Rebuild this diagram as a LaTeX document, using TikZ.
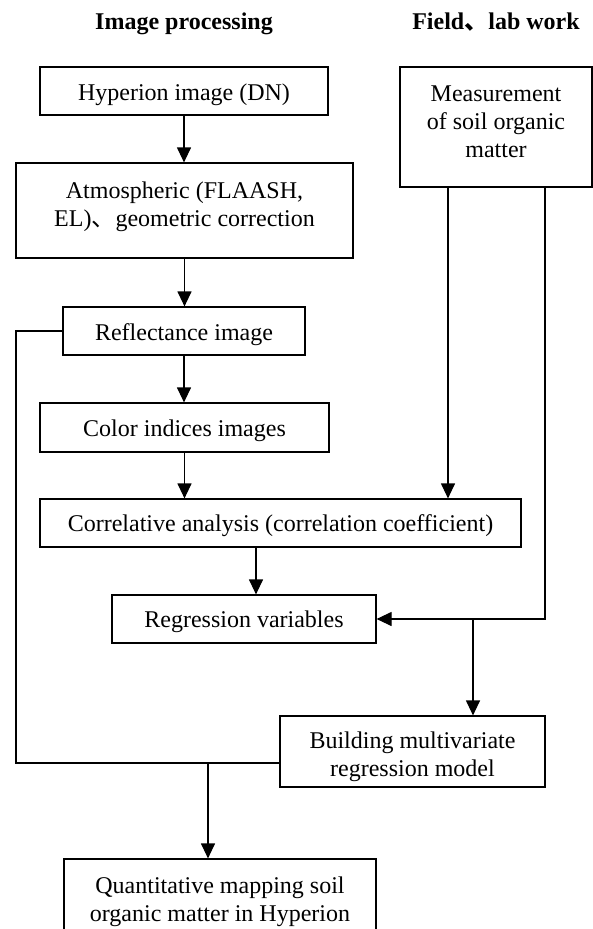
\documentclass[tikz,border=0pt]{standalone}
\usepackage{fontspec}
\setmainfont{Liberation Serif}
\newfontfamily\cjk{Noto Sans CJK SC}
\usetikzlibrary{arrows.meta}
\newcommand\mylines[1]{\vtop{\halign{\hfil##\hfil\cr #1\crcr}}}
\begin{document}
\begin{tikzpicture}[x=1bp,y=-1bp,
  box/.style={draw, line width=1.2bp, inner sep=0pt, font=\fontsize{24bp}{28bp}\selectfont},
  conn/.style={line width=1.2bp},
  arr/.style={conn, -{Triangle[length=15bp,width=14bp]}},
  title/.style={font=\fontsize{24bp}{28bp}\selectfont\bfseries, anchor=base, inner sep=0pt}]
\useasboundingbox (0,0) rectangle (593,929);
\clip (0,0) rectangle (593,929);

\node[title] (h1) at (184,29) {Image processing};
\node[title] (h2) at (496,29) {Field{\cjk 、}lab work};

\node[box, minimum width=288bp, minimum height=48bp, text height=18bp, text depth=0bp] (hyp) at (184,91) {Hyperion image (DN)};
\node[box, minimum width=337bp, minimum height=95bp, text height=0bp, text depth=25bp] (atm) at (184.5,210.5) {\mylines{Atmospheric (FLAASH,\cr EL){\cjk 、}geometric correction}};
\node[box, minimum width=242bp, minimum height=48bp, text height=19.4bp, text depth=0bp] (refl) at (184,331) {Reflectance image};
\node[box, minimum width=289bp, minimum height=49bp, text height=18.4bp, text depth=0bp] (color) at (184.5,427.5) {Color indices images};
\node[box, minimum width=481bp, minimum height=48bp, text height=17.4bp, text depth=0bp] (corr) at (280.5,523) {Correlative analysis (correlation coefficient)};
\node[box, minimum width=264bp, minimum height=48bp, text height=16bp, text depth=0bp] (regr) at (244,619) {Regression variables};
\node[box, minimum width=192bp, minimum height=120bp, text height=0bp, text depth=52bp] (meas) at (496,127) {\mylines{Measurement\cr of soil organic\cr matter}};
\node[box, minimum width=265bp, minimum height=71bp, text height=0bp, text depth=7bp] (build) at (412.5,751.5) {\mylines{Building multivariate\cr regression model}};
\node[box, minimum width=312bp, minimum height=91bp, text height=0bp, text depth=23bp] (quant) at (220,904.5) {\mylines{Quantitative mapping soil\cr organic matter in Hyperion}};

\coordinate (xa) at (256,0);
\coordinate (xb) at (448,0);
\coordinate (xc) at (545,0);
\coordinate (xd) at (473,0);
\coordinate (xl) at (16,0);
\coordinate (xq) at (208,0);
\coordinate (yh) at (0,763);

\draw[arr] (hyp.south) -- (hyp.south |- atm.north);
\draw[arr] (atm.south) -- (atm.south |- refl.north);
\draw[arr] (refl.south) -- (refl.south |- color.north);
\draw[arr] (color.south) -- (color.south |- corr.north);
\draw[arr] (corr.south -| xa) -- (regr.north -| xa);
\draw[arr] (meas.south -| xb) -- (corr.north -| xb);
\draw[arr] (meas.south -| xc) |- (regr.east);
\draw[arr] (regr.east -| xd) -- (build.north -| xd);
\draw[conn] (refl.west) -| (xl |- yh) -- (build.west |- yh);
\draw[arr] (yh -| xq) -- (quant.north -| xq);
\end{tikzpicture}
\end{document}
